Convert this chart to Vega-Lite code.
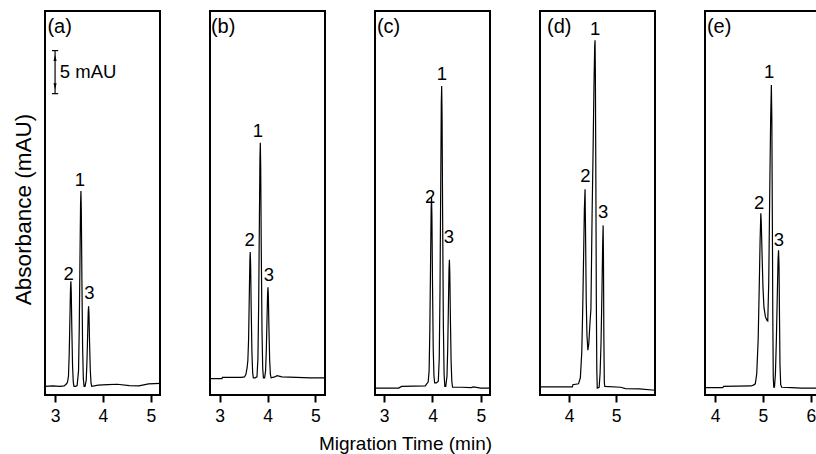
{
 "$schema": "https://vega.github.io/schema/vega-lite/v6.json",
 "padding": {"left": 11, "top": 10, "right": 0, "bottom": 0},
 "background": "white",
 "bounds": "flush",
 "spacing": 50,
 "config": {
  "view": {"stroke": "black", "strokeWidth": 2},
  "font": "Liberation Sans",
  "axis": {"grid": false, "domain": false, "tickColor": "black", "tickSize": 7, "tickWidth": 2, "labelFontSize": 17.5, "labelColor": "black", "labelPadding": 5, "labelFont": "Liberation Sans", "titleFont": "Liberation Sans", "titleFontWeight": "normal", "titleColor": "black"}
 },
 "datasets": {
  "trace": [
   {"p":"a","t":2.79,"v":0.0},{"p":"a","t":2.95,"v":0.05},{"p":"a","t":3.1,"v":0.0},{"p":"a","t":3.19,"v":0.05},{"p":"a","t":3.24,"v":0.3},{"p":"a","t":3.26,"v":0.5},{"p":"a","t":3.28,"v":1.2},{"p":"a","t":3.295,"v":3.7},{"p":"a","t":3.31,"v":7.9},{"p":"a","t":3.322,"v":11.3},{"p":"a","t":3.33,"v":12.2},{"p":"a","t":3.338,"v":11.0},{"p":"a","t":3.35,"v":6.7},{"p":"a","t":3.365,"v":2.4},{"p":"a","t":3.38,"v":0.5},{"p":"a","t":3.395,"v":0.0},{"p":"a","t":3.43,"v":0.0},{"p":"a","t":3.46,"v":0.1},{"p":"a","t":3.49,"v":1.8},{"p":"a","t":3.505,"v":6.8},{"p":"a","t":3.52,"v":14.8},{"p":"a","t":3.532,"v":21.1},{"p":"a","t":3.54,"v":22.7},{"p":"a","t":3.548,"v":20.4},{"p":"a","t":3.56,"v":12.5},{"p":"a","t":3.575,"v":4.5},{"p":"a","t":3.59,"v":0.9},{"p":"a","t":3.605,"v":0.0},{"p":"a","t":3.625,"v":0.0},{"p":"a","t":3.65,"v":0.7},{"p":"a","t":3.665,"v":2.8},{"p":"a","t":3.68,"v":6.0},{"p":"a","t":3.692,"v":8.6},{"p":"a","t":3.7,"v":9.3},{"p":"a","t":3.708,"v":8.4},{"p":"a","t":3.72,"v":5.1},{"p":"a","t":3.735,"v":1.9},{"p":"a","t":3.75,"v":0.4},{"p":"a","t":3.765,"v":0.0},{"p":"a","t":3.9,"v":0.15},{"p":"a","t":4.1,"v":0.2},{"p":"a","t":4.3,"v":0.25},{"p":"a","t":4.55,"v":0.1},{"p":"a","t":4.75,"v":0.05},{"p":"a","t":4.95,"v":0.3},{"p":"a","t":5.19,"v":0.35},
   {"p":"b","t":2.8,"v":0.9},{"p":"b","t":3.05,"v":0.9},{"p":"b","t":3.06,"v":1.05},{"p":"b","t":3.45,"v":1.05},{"p":"b","t":3.52,"v":1.1},{"p":"b","t":3.55,"v":1.4},{"p":"b","t":3.575,"v":2.2},{"p":"b","t":3.59,"v":3.0},{"p":"b","t":3.605,"v":5.4},{"p":"b","t":3.62,"v":10.5},{"p":"b","t":3.632,"v":14.6},{"p":"b","t":3.64,"v":15.6},{"p":"b","t":3.648,"v":14.1},{"p":"b","t":3.66,"v":9.0},{"p":"b","t":3.675,"v":3.9},{"p":"b","t":3.69,"v":1.6},{"p":"b","t":3.705,"v":1.0},{"p":"b","t":3.74,"v":1.0},{"p":"b","t":3.78,"v":1.1},{"p":"b","t":3.8,"v":3.2},{"p":"b","t":3.815,"v":9.2},{"p":"b","t":3.83,"v":18.7},{"p":"b","t":3.842,"v":26.4},{"p":"b","t":3.85,"v":28.3},{"p":"b","t":3.858,"v":25.6},{"p":"b","t":3.87,"v":16.0},{"p":"b","t":3.885,"v":6.5},{"p":"b","t":3.9,"v":2.1},{"p":"b","t":3.915,"v":1.0},{"p":"b","t":3.94,"v":1.0},{"p":"b","t":3.96,"v":1.8},{"p":"b","t":3.975,"v":4.2},{"p":"b","t":3.99,"v":7.8},{"p":"b","t":4.002,"v":10.8},{"p":"b","t":4.01,"v":11.5},{"p":"b","t":4.018,"v":10.5},{"p":"b","t":4.03,"v":6.8},{"p":"b","t":4.045,"v":3.1},{"p":"b","t":4.06,"v":1.4},{"p":"b","t":4.075,"v":1.0},{"p":"b","t":4.15,"v":1.1},{"p":"b","t":4.2,"v":1.25},{"p":"b","t":4.3,"v":1.1},{"p":"b","t":4.6,"v":1.05},{"p":"b","t":4.9,"v":1.0},{"p":"b","t":5.2,"v":1.0},
   {"p":"c","t":2.81,"v":-0.2},{"p":"c","t":3.3,"v":-0.2},{"p":"c","t":3.36,"v":0.0},{"p":"c","t":3.85,"v":0.05},{"p":"c","t":3.88,"v":0.3},{"p":"c","t":3.91,"v":0.5},{"p":"c","t":3.93,"v":1.8},{"p":"c","t":3.945,"v":6.6},{"p":"c","t":3.96,"v":14.3},{"p":"c","t":3.972,"v":20.5},{"p":"c","t":3.98,"v":22.0},{"p":"c","t":3.988,"v":19.8},{"p":"c","t":4.0,"v":12.1},{"p":"c","t":4.015,"v":4.4},{"p":"c","t":4.03,"v":1.2},{"p":"c","t":4.045,"v":0.4},{"p":"c","t":4.08,"v":0.4},{"p":"c","t":4.12,"v":0.6},{"p":"c","t":4.14,"v":3.3},{"p":"c","t":4.155,"v":10.9},{"p":"c","t":4.17,"v":23.2},{"p":"c","t":4.182,"v":32.9},{"p":"c","t":4.19,"v":34.9},{"p":"c","t":4.198,"v":31.5},{"p":"c","t":4.21,"v":19.3},{"p":"c","t":4.225,"v":7.0},{"p":"c","t":4.24,"v":1.4},{"p":"c","t":4.255,"v":0.0},{"p":"c","t":4.275,"v":0.0},{"p":"c","t":4.3,"v":1.2},{"p":"c","t":4.315,"v":4.4},{"p":"c","t":4.33,"v":9.6},{"p":"c","t":4.342,"v":13.7},{"p":"c","t":4.35,"v":14.7},{"p":"c","t":4.358,"v":13.2},{"p":"c","t":4.37,"v":8.1},{"p":"c","t":4.385,"v":2.9},{"p":"c","t":4.4,"v":0.6},{"p":"c","t":4.415,"v":-0.1},{"p":"c","t":4.6,"v":-0.1},{"p":"c","t":4.8,"v":-0.15},{"p":"c","t":4.85,"v":-0.05},{"p":"c","t":5.0,"v":-0.2},{"p":"c","t":5.19,"v":-0.2},
   {"p":"d","t":3.38,"v":-0.05},{"p":"d","t":4.07,"v":-0.05},{"p":"d","t":4.08,"v":0.2},{"p":"d","t":4.2,"v":0.3},{"p":"d","t":4.24,"v":1.0},{"p":"d","t":4.27,"v":4.0},{"p":"d","t":4.29,"v":9.0},{"p":"d","t":4.31,"v":15.5},{"p":"d","t":4.325,"v":20.5},{"p":"d","t":4.34,"v":22.9},{"p":"d","t":4.35,"v":18.0},{"p":"d","t":4.365,"v":10.0},{"p":"d","t":4.38,"v":6.0},{"p":"d","t":4.4,"v":4.2},{"p":"d","t":4.42,"v":5.0},{"p":"d","t":4.445,"v":7.4},{"p":"d","t":4.465,"v":9.0},{"p":"d","t":4.49,"v":20.0},{"p":"d","t":4.51,"v":27.0},{"p":"d","t":4.53,"v":35.0},{"p":"d","t":4.545,"v":39.5},{"p":"d","t":4.553,"v":40.2},{"p":"d","t":4.56,"v":36.0},{"p":"d","t":4.57,"v":24.0},{"p":"d","t":4.58,"v":10.0},{"p":"d","t":4.59,"v":2.0},{"p":"d","t":4.6,"v":-0.2},{"p":"d","t":4.64,"v":-0.1},{"p":"d","t":4.66,"v":1.5},{"p":"d","t":4.68,"v":5.0},{"p":"d","t":4.7,"v":11.0},{"p":"d","t":4.715,"v":16.5},{"p":"d","t":4.725,"v":18.7},{"p":"d","t":4.732,"v":15.0},{"p":"d","t":4.74,"v":6.0},{"p":"d","t":4.75,"v":0.5},{"p":"d","t":4.76,"v":0.0},{"p":"d","t":5.1,"v":-0.1},{"p":"d","t":5.2,"v":-0.25},{"p":"d","t":5.5,"v":-0.3},{"p":"d","t":5.83,"v":-0.45},
   {"p":"e","t":3.79,"v":-0.15},{"p":"e","t":4.16,"v":-0.15},{"p":"e","t":4.18,"v":0.0},{"p":"e","t":4.75,"v":0.05},{"p":"e","t":4.8,"v":0.15},{"p":"e","t":4.84,"v":0.3},{"p":"e","t":4.87,"v":1.5},{"p":"e","t":4.9,"v":5.5},{"p":"e","t":4.92,"v":11.0},{"p":"e","t":4.94,"v":17.0},{"p":"e","t":4.955,"v":20.1},{"p":"e","t":4.965,"v":19.0},{"p":"e","t":4.98,"v":15.5},{"p":"e","t":5.0,"v":11.5},{"p":"e","t":5.02,"v":9.2},{"p":"e","t":5.05,"v":8.1},{"p":"e","t":5.08,"v":7.7},{"p":"e","t":5.1,"v":7.6},{"p":"e","t":5.12,"v":12.0},{"p":"e","t":5.14,"v":22.0},{"p":"e","t":5.16,"v":31.0},{"p":"e","t":5.175,"v":35.0},{"p":"e","t":5.185,"v":31.0},{"p":"e","t":5.195,"v":20.0},{"p":"e","t":5.205,"v":8.0},{"p":"e","t":5.215,"v":1.0},{"p":"e","t":5.225,"v":-0.1},{"p":"e","t":5.24,"v":-0.1},{"p":"e","t":5.26,"v":1.5},{"p":"e","t":5.28,"v":5.5},{"p":"e","t":5.3,"v":11.0},{"p":"e","t":5.315,"v":14.8},{"p":"e","t":5.325,"v":15.8},{"p":"e","t":5.335,"v":14.0},{"p":"e","t":5.345,"v":8.0},{"p":"e","t":5.355,"v":2.5},{"p":"e","t":5.37,"v":0.2},{"p":"e","t":5.39,"v":-0.1},{"p":"e","t":5.6,"v":-0.15},{"p":"e","t":5.8,"v":-0.2},{"p":"e","t":6.19,"v":-0.2}
  ],
  "peaks": [
   {"p":"a","s":"1","t":3.52,"v":23.3},{"p":"a","s":"2","t":3.285,"v":12.4},{"p":"a","s":"3","t":3.715,"v":10.15},
   {"p":"b","s":"1","t":3.8,"v":29.0},{"p":"b","s":"2","t":3.625,"v":16.3},{"p":"b","s":"3","t":4.03,"v":12.2},
   {"p":"c","s":"1","t":4.196,"v":35.6},{"p":"c","s":"2","t":3.95,"v":21.3},{"p":"c","s":"3","t":4.34,"v":16.6},
   {"p":"d","s":"1","t":4.553,"v":40.8},{"p":"d","s":"2","t":4.345,"v":23.7},{"p":"d","s":"3","t":4.725,"v":19.55},
   {"p":"e","s":"1","t":5.13,"v":35.8},{"p":"e","s":"2","t":4.92,"v":20.6},{"p":"e","s":"3","t":5.33,"v":16.3}
  ],
  "tags": [
   {"p":"a","s":"(a)","t":2.84,"v":41.0},{"p":"b","s":"(b)","t":2.82,"v":41.0},{"p":"c","s":"(c)","t":2.85,"v":41.0},{"p":"d","s":"(d)","t":3.53,"v":41.0},{"p":"e","s":"(e)","t":3.83,"v":41.0}
  ],
  "bar": [{"t":3.0,"v":34,"v2":39}],
  "caps": [{"t":2.935,"t2":3.065,"v":34},{"t":2.935,"t2":3.065,"v":39}],
  "barlabel": [{"t":3.1,"v":36.5,"s":"5 mAU"}],
  "arrowup": [{"t":3.0,"v":38.15}],
  "arrowdown": [{"t":3.0,"v":34.85}]
 },
 "hconcat": [
  {
   "width": 115, "height": 384,
   "encoding": {
    "x": {"field": "t", "type": "quantitative", "scale": {"domain": [2.79, 5.19], "nice": false, "zero": false}, "axis": {"values": [3,4,5], "title": null, "format": "d"}},
    "y": {"field": "v", "type": "quantitative", "scale": {"domain": [-1, 43.6], "nice": false, "zero": false}, "axis": {"title": "Absorbance (mAU)", "labels": false, "ticks": false, "domain": false, "titleFontSize": 22.5, "titleAngle": -90, "titleX": -22, "titleY": 198, "titleAlign": "center", "titleBaseline": "middle"}}
   },
   "layer": [
    {"data": {"name": "trace"}, "transform": [{"filter": "datum.p == 'a'"}], "mark": {"type": "line", "color": "black", "strokeWidth": 1.2, "clip": true}, "encoding": {}},
    {"data": {"name": "peaks"}, "transform": [{"filter": "datum.p == 'a'"}], "mark": {"type": "text", "fontSize": 18.5, "align": "center", "baseline": "alphabetic", "color": "black"}, "encoding": {"text": {"field": "s"}}},
    {"data": {"name": "tags"}, "transform": [{"filter": "datum.p == 'a'"}], "mark": {"type": "text", "fontSize": 20, "align": "left", "baseline": "alphabetic", "color": "black"}, "encoding": {"text": {"field": "s"}}},
    {"data": {"name": "bar"}, "mark": {"type": "rule", "color": "black", "strokeWidth": 1.2}, "encoding": {"y2": {"field": "v2"}}},
    {"data": {"name": "caps"}, "mark": {"type": "rule", "color": "black", "strokeWidth": 1.2}, "encoding": {"x2": {"field": "t2"}}},
    {"data": {"name": "arrowup"}, "mark": {"type": "point", "shape": "M-0.5,1L0,-1L0.5,1Z", "filled": true, "color": "black", "size": 40, "opacity": 1}, "encoding": {}},
    {"data": {"name": "arrowdown"}, "mark": {"type": "point", "shape": "M-0.5,-1L0,1L0.5,-1Z", "filled": true, "color": "black", "size": 40, "opacity": 1}, "encoding": {}},
    {"data": {"name": "barlabel"}, "mark": {"type": "text", "fontSize": 18.5, "align": "left", "baseline": "middle", "color": "black"}, "encoding": {"text": {"field": "s"}}}
   ]
  },
  {
   "width": 115, "height": 384,
   "encoding": {
    "x": {"field": "t", "type": "quantitative", "scale": {"domain": [2.8, 5.2], "nice": false, "zero": false}, "axis": {"values": [3,4,5], "title": null, "format": "d"}},
    "y": {"field": "v", "type": "quantitative", "scale": {"domain": [-1, 43.6], "nice": false, "zero": false}, "axis": null}
   },
   "layer": [
    {"data": {"name": "trace"}, "transform": [{"filter": "datum.p == 'b'"}], "mark": {"type": "line", "color": "black", "strokeWidth": 1.2, "clip": true}, "encoding": {}},
    {"data": {"name": "peaks"}, "transform": [{"filter": "datum.p == 'b'"}], "mark": {"type": "text", "fontSize": 18.5, "align": "center", "baseline": "alphabetic", "color": "black"}, "encoding": {"text": {"field": "s"}}},
    {"data": {"name": "tags"}, "transform": [{"filter": "datum.p == 'b'"}], "mark": {"type": "text", "fontSize": 20, "align": "left", "baseline": "alphabetic", "color": "black"}, "encoding": {"text": {"field": "s"}}}
   ]
  },
  {
   "width": 115, "height": 384,
   "encoding": {
    "x": {"field": "t", "type": "quantitative", "scale": {"domain": [2.81, 5.19], "nice": false, "zero": false}, "axis": {"values": [3,4,5], "title": "Migration Time (min)", "format": "d", "titleFontSize": 19, "titleX": 30, "titleY": 54, "titleAlign": "center", "titleBaseline": "alphabetic"}},
    "y": {"field": "v", "type": "quantitative", "scale": {"domain": [-1, 43.6], "nice": false, "zero": false}, "axis": null}
   },
   "layer": [
    {"data": {"name": "trace"}, "transform": [{"filter": "datum.p == 'c'"}], "mark": {"type": "line", "color": "black", "strokeWidth": 1.2, "clip": true}, "encoding": {}},
    {"data": {"name": "peaks"}, "transform": [{"filter": "datum.p == 'c'"}], "mark": {"type": "text", "fontSize": 18.5, "align": "center", "baseline": "alphabetic", "color": "black"}, "encoding": {"text": {"field": "s"}}},
    {"data": {"name": "tags"}, "transform": [{"filter": "datum.p == 'c'"}], "mark": {"type": "text", "fontSize": 20, "align": "left", "baseline": "alphabetic", "color": "black"}, "encoding": {"text": {"field": "s"}}}
   ]
  },
  {
   "width": 115, "height": 384,
   "encoding": {
    "x": {"field": "t", "type": "quantitative", "scale": {"domain": [3.38, 5.83], "nice": false, "zero": false}, "axis": {"values": [4,5], "title": null, "format": "d"}},
    "y": {"field": "v", "type": "quantitative", "scale": {"domain": [-1, 43.6], "nice": false, "zero": false}, "axis": null}
   },
   "layer": [
    {"data": {"name": "trace"}, "transform": [{"filter": "datum.p == 'd'"}], "mark": {"type": "line", "color": "black", "strokeWidth": 1.2, "clip": true}, "encoding": {}},
    {"data": {"name": "peaks"}, "transform": [{"filter": "datum.p == 'd'"}], "mark": {"type": "text", "fontSize": 18.5, "align": "center", "baseline": "alphabetic", "color": "black"}, "encoding": {"text": {"field": "s"}}},
    {"data": {"name": "tags"}, "transform": [{"filter": "datum.p == 'd'"}], "mark": {"type": "text", "fontSize": 20, "align": "left", "baseline": "alphabetic", "color": "black"}, "encoding": {"text": {"field": "s"}}}
   ]
  },
  {
   "width": 115, "height": 384,
   "encoding": {
    "x": {"field": "t", "type": "quantitative", "scale": {"domain": [3.79, 6.19], "nice": false, "zero": false}, "axis": {"values": [4,5,6], "title": null, "format": "d"}},
    "y": {"field": "v", "type": "quantitative", "scale": {"domain": [-1, 43.6], "nice": false, "zero": false}, "axis": null}
   },
   "layer": [
    {"data": {"name": "trace"}, "transform": [{"filter": "datum.p == 'e'"}], "mark": {"type": "line", "color": "black", "strokeWidth": 1.2, "clip": true}, "encoding": {}},
    {"data": {"name": "peaks"}, "transform": [{"filter": "datum.p == 'e'"}], "mark": {"type": "text", "fontSize": 18.5, "align": "center", "baseline": "alphabetic", "color": "black"}, "encoding": {"text": {"field": "s"}}},
    {"data": {"name": "tags"}, "transform": [{"filter": "datum.p == 'e'"}], "mark": {"type": "text", "fontSize": 20, "align": "left", "baseline": "alphabetic", "color": "black"}, "encoding": {"text": {"field": "s"}}}
   ]
  }
 ]
}
